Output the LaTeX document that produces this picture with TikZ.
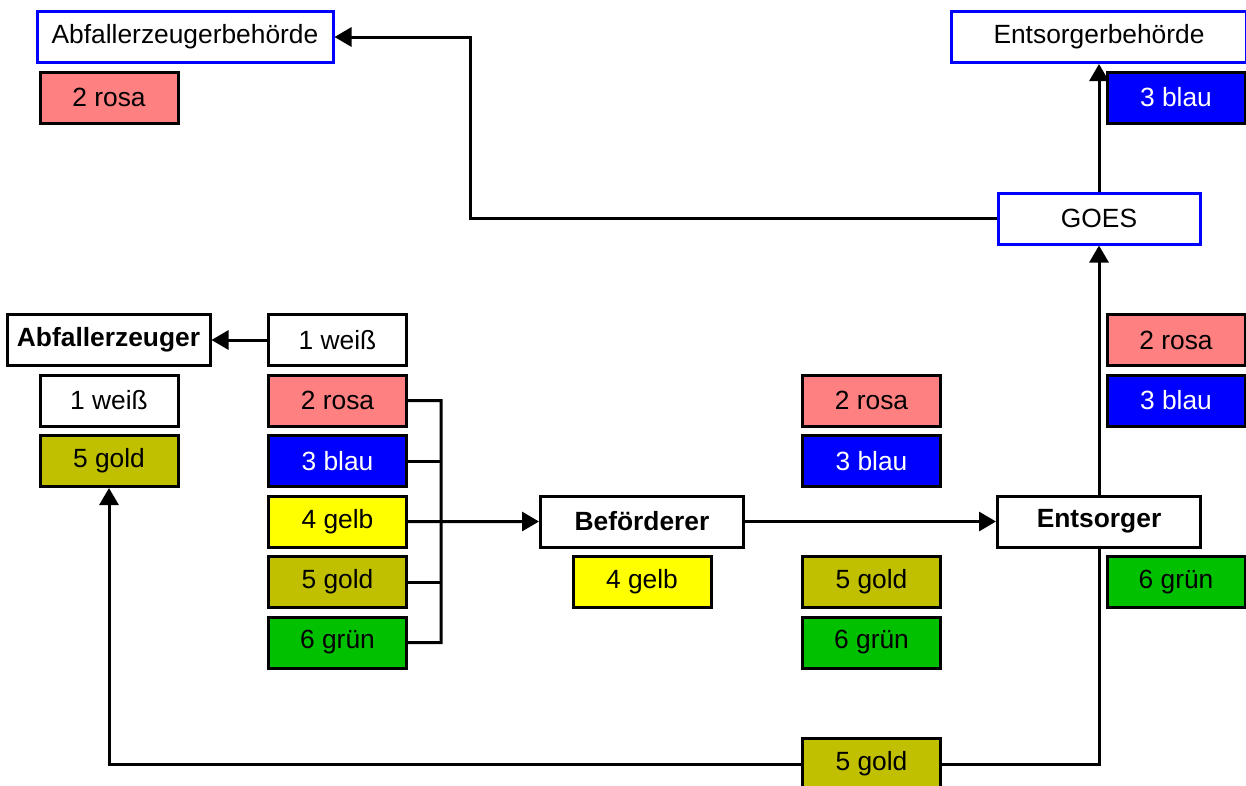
\documentclass[tikz,border=0pt]{standalone}
\usepackage{fontspec}
\setmainfont{Liberation Sans}
\usetikzlibrary{arrows.meta,positioning,backgrounds}
\definecolor{rosa}{RGB}{255,128,128}
\definecolor{blau}{RGB}{0,0,255}
\definecolor{gelb}{RGB}{255,255,0}
\definecolor{gold}{RGB}{192,192,0}
\definecolor{gruen}{RGB}{0,192,0}
\tikzset{
  tag/.style={
    rectangle,
    draw=black,
    line width=0.06cm,
    inner sep=0pt,
    minimum width=2.76cm,
    minimum height=1.02cm,
    font=\fontsize{15}{18}\selectfont
  },
  actor/.style={
    rectangle,
    draw=black,
    fill=white,
    line width=0.06cm,
    inner sep=0pt,
    minimum width=4.06cm,
    minimum height=1.02cm,
    font=\fontsize{15}{18}\selectfont\bfseries
  },
  office/.style={
    rectangle,
    draw=blau,
    fill=white,
    line width=0.06cm,
    inner sep=0pt,
    minimum width=4.04cm,
    minimum height=1.02cm,
    font=\fontsize{15}{18}\selectfont
  },
  weiss/.style={tag, fill=white},
  rosab/.style={tag, fill=rosa},
  blaub/.style={tag, fill=blau, text=white},
  gelbb/.style={tag, fill=gelb},
  goldb/.style={tag, fill=gold},
  gruenb/.style={tag, fill=gruen},
  line/.style={line width=0.06cm},
  arrow/.style={line, -{Triangle[length=0.34cm, width=0.38cm]}}
}

\begin{document}
\begin{tikzpicture}[node distance=0.13cm]
    \useasboundingbox (0,0) rectangle (24.92,-15.7);

    % Behoerden und GOES
    \node[office, minimum width=5.92cm] (behAbf) at (3.70,-0.74) {Abfallerzeugerbehörde};
    \node[rosab] (rosaA) at (2.18,-1.95) {2 rosa};
    \node[office, minimum width=5.9cm] (behEnt) at (21.98,-0.74) {Entsorgerbehörde};
    \node[blaub] (blauE) at (23.52,-1.95) {3 blau};
    \node[office] (goes) at (21.98,-4.37) {GOES};

    % Abfallerzeuger
    \node[actor] (abf) at (2.17,-6.8) {Abfallerzeuger};
    \node[weiss] (weissL) at (2.18,-8.01) {1 weiß};
    \node[goldb, below=of weissL] (goldL) {5 gold};

    % Formularsatz
    \node[weiss] (weiss1) at (6.75,-6.8) {1 weiß};
    \node[rosab, below=of weiss1] (rosa1) {2 rosa};
    \node[blaub, below=of rosa1] (blau1) {3 blau};
    \node[gelbb, below=of blau1] (gelb1) {4 gelb};
    \node[goldb, below=of gelb1] (gold1) {5 gold};
    \node[gruenb, below=of gold1] (gruen1) {6 grün};

    % Befoerderer
    \node[actor] (bef) at (12.84,-10.43) {Beförderer};
    \node[gelbb, below=of bef] (gelbB) {4 gelb};

    \node[rosab] (rosaM) at (17.43,-8.01) {2 rosa};
    \node[blaub, below=of rosaM] (blauM) {3 blau};
    \node[goldb] (goldM) at (17.43,-11.64) {5 gold};
    \node[gruenb, below=of goldM] (gruenM) {6 grün};
    \node[goldb] (goldU) at (17.43,-15.28) {5 gold};

    % Entsorger
    \node[actor] (ent) at (21.98,-10.43) {Entsorger};
    \node[rosab] (rosaE) at (23.52,-6.8) {2 rosa};
    \node[blaub, below=of rosaE] (blauE2) {3 blau};
    \node[gruenb] (gruenE) at (23.52,-11.64) {6 grün};

    \coordinate (busTop) at (8.82,-8.01);
    \coordinate (busBot) at (8.82,-12.85);
    \coordinate (knick) at (9.4,-0.74);

    \begin{scope}[on background layer]
    \draw[line] (rosa1.east) -- (busTop) -- (busBot) -- (gruen1.east);
    \draw[line] (blau1.east) -- (blau1.east -| busTop);
    \draw[line] (gold1.east) -- (gold1.east -| busTop);
    \draw[arrow] (gelb1.east) -- (bef.west);
    \draw[arrow] (weiss1.west) -- (abf.east);
    \draw[arrow] (bef.east) -- (ent.west);
    \draw[arrow] (ent.north) -- (goes.south);
    \draw[arrow] (goes.north) -- (behEnt.south);
    \draw[arrow] (goes.west) -| (knick) -- (behAbf.east);
    \draw[arrow] (ent.south) |- (goldU.center) -| (goldL.south);
    \end{scope}
  \end{tikzpicture}
\end{document}
